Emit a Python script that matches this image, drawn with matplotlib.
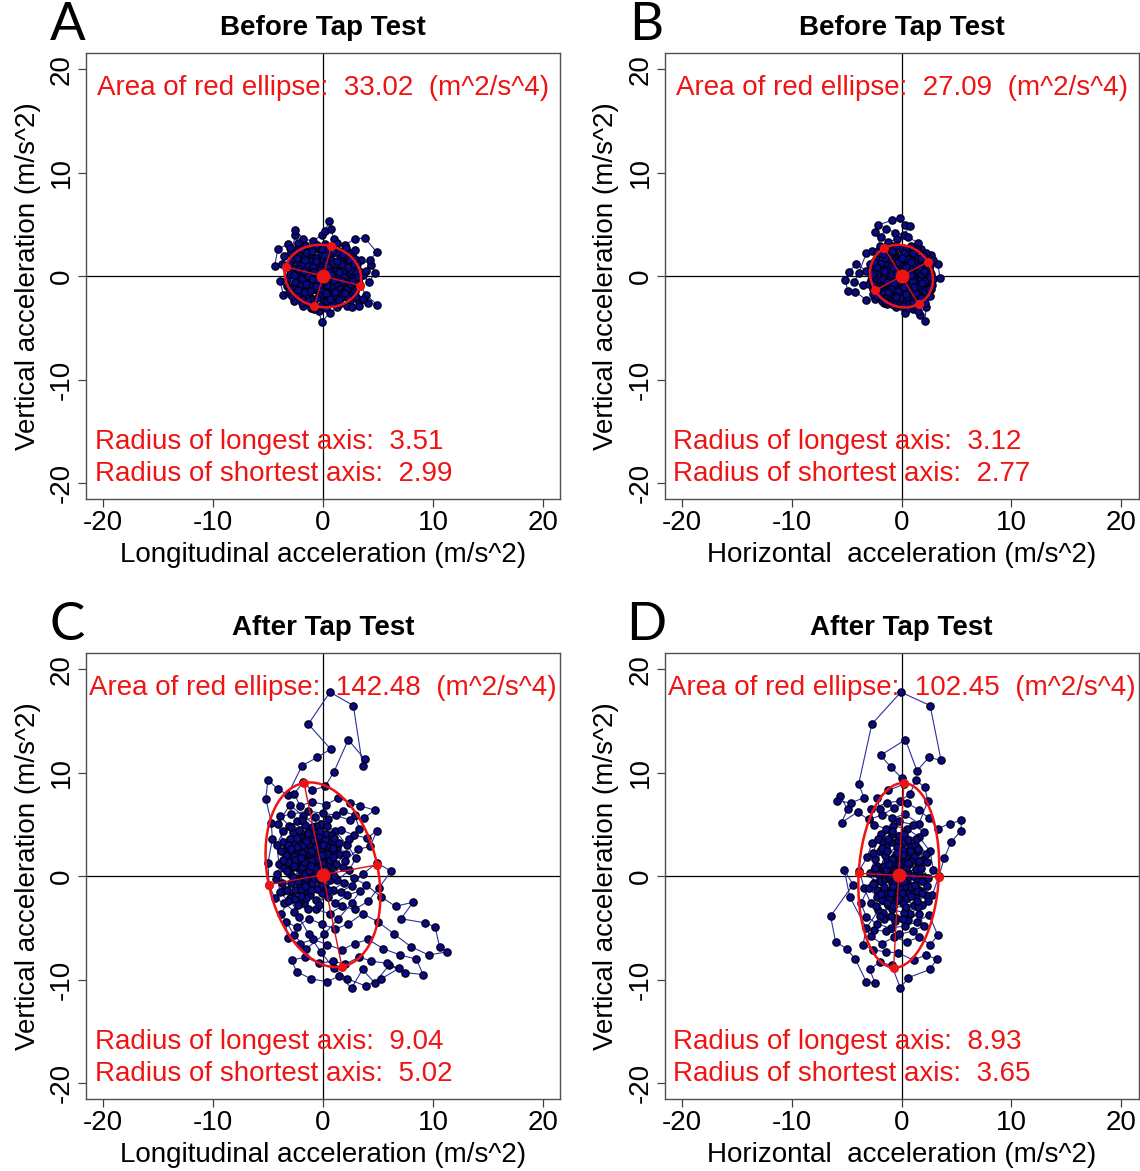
import numpy as np
import matplotlib
matplotlib.use("Agg")
import matplotlib.pyplot as plt
from matplotlib.patches import Ellipse

plt.rcParams["font.family"] = ["Liberation Sans", "DejaVu Sans"]

# ---- valores ----
panel_letters = ["A", "B", "C", "D"]
panel_titles = ["Before Tap Test", "Before Tap Test", "After Tap Test", "After Tap Test"]
x_labels = ["Longitudinal acceleration (m/s^2)", "Horizontal  acceleration (m/s^2)",
            "Longitudinal acceleration (m/s^2)", "Horizontal  acceleration (m/s^2)"]
y_label = "Vertical acceleration (m/s^2)"
ticks = [-20, -10, 0, 10, 20]

areas = [33.02, 27.09, 142.48, 102.45]
long_radius = [3.51, 3.12, 9.04, 8.93]
short_radius = [2.99, 2.77, 5.02, 3.65]
ellipse_angle = [-15, -60, 101, 87]          # grados, eje largo
ellipse_center = [(0.0, 0.0), (0.0, 0.0), (0.0, 0.15), (-0.25, 0.1)]

# trayectorias (aprox.)
pts_a = [
    (0.0, 0.0), (0.8, 0.4), (1.6, -0.2), (2.5, 0.3), (3.2, -0.4), (2.7, -1.1), (1.8, -0.8), (0.9, -1.3),
    (0.1, -0.7), (-0.8, -1.2), (-1.7, -0.6), (-2.6, -1.0), (-3.3, -0.3), (-2.9, 0.5), (-2.0, 0.2), (-1.1, 0.7),
    (-0.3, 0.4), (0.6, 1.1), (1.4, 0.7), (2.2, 1.2), (3.0, 0.8), (3.6, 0.1), (4.2, -0.6), (4.7, 0.3),
    (4.4, 1.1), (3.5, 1.6), (2.6, 2.0), (1.7, 1.7), (0.8, 2.2), (-0.1, 1.6), (-1.0, 2.0), (-1.9, 1.4),
    (-2.8, 1.6), (-3.4, 0.9), (-4.4, 1.0), (-4.1, 2.6), (-3.2, 3.1), (-2.4, 2.6), (-1.6, 3.0), (-0.7, 2.7),
    (0.2, 3.1), (1.1, 2.8), (2.0, 3.0), (2.9, 3.6), (3.8, 3.7), (4.9, 2.3), (4.3, 1.6), (3.9, 0.5),
    (3.4, -0.9), (3.9, -1.8), (4.9, -2.75), (4.1, -2.6), (3.3, -2.5), (2.5, -2.4), (1.7, -2.0), (0.9, -2.6),
    (0.0, -2.2), (-0.9, -2.7), (-1.8, -2.2), (-2.6, -2.4), (-3.6, -1.8), (-3.9, -0.5), (-3.1, -1.5), (-2.2, -1.6),
    (-1.3, -1.9), (-0.4, -1.5), (0.5, -1.9), (1.4, -1.5), (2.3, -1.7), (3.0, -2.0), (2.2, -2.9), (1.3, -3.0),
    (0.6, -3.6), (-0.1, -4.4), (-0.4, -3.4), (-1.1, -3.1), (-1.8, -2.9), (-1.0, -2.2), (-0.2, -2.9), (0.4, -2.4),
    (1.1, -1.1), (0.3, -0.3), (-0.5, 0.1), (-1.4, -0.2), (-2.3, -0.5), (-2.7, 0.8), (-1.8, 0.9), (-0.9, 1.2),
    (0.0, 0.8), (0.9, 0.0), (1.8, 0.4), (2.7, -0.2), (2.0, -0.6), (1.2, -0.3), (0.4, 0.6), (-0.4, 1.0),
    (-1.2, 1.5), (-2.1, 2.1), (-2.9, 2.2), (-2.5, 4.0), (-2.5, 4.5), (-1.8, 3.6), (-0.9, 3.4), (-0.1, 4.0),
    (0.2, 4.4), (0.58, 5.3), (0.7, 4.6), (1.0, 3.6), (1.5, 2.4), (2.3, 2.3), (2.9, 1.7), (2.4, 0.8),
    (1.6, 1.2), (0.7, 1.6), (-0.2, 2.2), (-1.1, 2.5), (-1.6, 1.9), (-2.2, 1.2), (-3.0, 0.2), (-2.4, -0.2),
    (-1.6, -1.1), (-0.7, -0.6), (0.2, -1.2), (1.0, -1.9), (1.9, -1.2), (2.8, -0.7), (3.3, 0.5), (2.9, 2.5),
    (2.1, 2.7), (1.3, 3.2), (0.4, 2.6), (-0.5, 3.0), (-1.4, 2.7), (-2.3, 3.2), (-3.0, 2.7), (-3.5, 1.9),
    (-3.7, 1.2), (-3.3, -1.0), (-2.8, -1.9), (-1.9, -2.6), (-0.8, -3.2), (0.3, -3.1), (1.5, -2.7), (2.6, -3.0),
    (3.3, -2.9), (3.6, -2.2), (2.7, -1.5), (1.6, -0.9), (0.6, -0.5), (-0.3, -0.9), (-1.2, -0.5), (-2.0, -1.2),
    (-1.5, 0.4), (-0.6, 0.5), (0.3, 0.2), (0.1, 0.0),
    (0.5, -0.6), (1.3, 0.2), (2.1, -0.3), (1.5, -1.1), (0.7, -1.0), (-0.2, -1.4), (-1.0, -0.9), (-1.9, -0.3),
    (-2.5, 0.3), (-1.9, 1.1), (-1.0, 0.3), (-0.1, 0.9), (0.8, 1.3), (1.6, 1.9), (2.4, 1.6), (3.1, 1.2),
    (2.6, 0.5), (1.9, -0.1), (1.1, 0.5), (0.3, 1.3), (-0.6, 1.8), (-1.5, 2.3), (-2.4, 1.8), (-3.1, 1.2),
    (-2.6, 0.1), (-2.1, -0.9), (-1.2, -1.4), (-0.3, -1.9), (0.6, -2.2), (1.5, -2.3), (2.3, -2.1), (2.9, -1.4),
    (2.2, -1.2), (1.3, -0.7), (0.4, -0.9), (-0.5, -0.4), (-1.4, 0.0), (-2.2, 0.7), (-1.4, 1.1), (-0.6, 1.5),
    (0.2, 2.0), (1.2, 2.3), (2.0, 1.9), (1.3, 1.5), (0.5, 0.9), (-0.3, 0.6), (-1.0, -0.3), (-1.7, -1.5),
    (-2.4, -1.8), (-1.4, -2.4), (-0.5, -2.1), (0.3, -1.6), (1.1, -1.5), (2.0, -1.6), (2.5, -0.8), (1.4, 0.0),
    (0.6, 0.4), (-0.2, 0.3), (-0.9, 0.9), (-1.7, 0.5), (-2.5, -0.6), (-3.0, -1.2), (-2.3, -1.3), (-1.5, -0.8),
    (-0.6, -1.0), (0.2, -0.5), (1.0, -0.4), (1.7, -0.5), (2.6, -0.5), (3.0, 0.3), (2.3, 0.9), (1.5, 0.4),
    (0.7, 0.1), (-0.1, -0.1), (-0.8, 0.4), (-1.6, 1.6), (-2.0, 2.6), (-1.0, 2.4), (-0.1, 2.6), (0.9, 2.5),
    (1.8, 2.1), (2.8, 1.2), (3.2, -0.1),
]

pts_b = [
    (0.0, 0.0), (0.9, 0.5), (1.8, -0.3), (2.6, 0.4), (2.2, 1.3), (1.3, 1.8), (0.4, 1.2), (-0.5, 1.9),
    (-1.4, 1.3), (-2.3, 1.7), (-2.8, 0.8), (-2.1, 0.1), (-1.2, 0.6), (-0.3, -0.2), (0.6, -0.9), (1.5, -1.4),
    (2.4, -1.0), (2.9, -0.3), (3.5, -0.2), (3.3, 1.2), (2.7, 2.0), (1.8, 2.6), (0.9, 2.9), (0.0, 2.6),
    (-0.9, 2.9), (-1.7, 2.5), (-2.4, 4.3), (-2.1, 4.95), (-0.9, 5.4), (-0.15, 5.6), (0.3, 4.9), (0.76, 4.8),
    (0.2, 4.0), (-0.6, 4.2), (-1.4, 4.6), (-1.9, 3.8), (-1.2, 3.3), (-0.4, 3.6), (0.6, 3.8), (1.5, 3.2),
    (2.27, 2.2), (2.9, 1.6), (2.5, 0.7), (1.6, 0.9), (0.7, 0.3), (-0.2, 0.8), (-1.1, -0.3), (-2.0, -0.6),
    (-2.8, -0.4), (-3.2, 0.5), (-4.1, 1.2), (-4.8, 0.4), (-5.1, -0.4), (-4.9, -1.4), (-4.2, -1.5), (-3.2, -2.3),
    (-2.0, -2.0), (-2.6, -1.2), (-3.5, -0.9), (-4.3, -0.6), (-3.9, 0.3), (-3.2, 2.2), (-2.7, 2.4), (-2.0, 2.9),
    (-1.2, 2.2), (-0.3, 1.6), (0.5, 2.1), (1.4, 2.6), (2.1, 1.6), (1.2, 0.2), (0.3, -0.6), (-0.6, -1.1),
    (-1.5, -1.5), (-2.4, -2.2), (-1.6, -2.6), (-0.8, -2.1), (0.1, -1.7), (1.0, -2.2), (1.9, -1.9), (2.7, -1.2),
    (2.27, -3.0), (2.1, -4.3), (1.7, -3.8), (1.0, -3.2), (0.3, -3.6), (-0.5, -3.0), (-1.3, -2.7), (-0.6, -2.4),
    (0.4, -2.6), (1.3, -2.9), (2.0, -2.4), (2.6, -1.9), (1.7, -1.0), (0.8, -1.3), (-0.1, -0.9), (-0.9, -1.7),
    (-1.8, -1.0), (-2.5, -0.2), (-1.9, 0.9), (-1.0, 1.5), (-0.1, 1.2), (0.8, 1.6), (1.7, 1.3), (2.5, -0.6),
    (1.9, -1.4), (0.9, -1.8), (0.0, -2.4), (-0.9, -2.7), (-1.8, -2.4), (-2.6, -1.7), (-3.0, -0.8), (-2.9, 1.2),
    (-2.2, 2.3), (-1.4, 2.8), (-0.5, 2.9), (0.4, 2.6), (1.2, 2.4), (2.0, 1.9), (2.6, 1.1), (2.8, -0.9),
    (2.1, -2.6), (1.5, -3.4), (0.6, -3.1), (-0.3, -2.7), (-1.1, -2.3), (-1.4, -0.8), (-0.7, 0.2), (0.2, 0.6),
    (1.1, -0.5), (0.4, -1.3), (-0.5, -0.6), (-1.6, 0.2), (-1.0, 1.0), (-0.1, 0.1),
    (0.5, -0.3), (1.3, 0.4), (2.0, 1.1), (1.4, 1.5), (0.6, 1.7), (-0.3, 1.4), (-1.1, 1.9), (-1.9, 1.3),
    (-2.4, 0.5), (-1.7, -0.3), (-0.9, 0.2), (-0.2, -0.5), (0.7, -1.4), (1.6, -0.9), (2.2, -0.4), (2.7, 0.2),
    (2.3, 0.9), (1.5, 0.5), (0.8, 0.9), (0.0, 0.4), (-0.8, 0.8), (-1.6, 0.5), (-2.3, -0.9), (-1.8, -1.7),
    (-1.0, -1.2), (-0.3, -1.4), (0.5, -2.0), (1.3, -1.6), (2.1, -1.4), (1.5, -2.4), (0.7, -2.7), (-0.1, -2.1),
    (-1.0, -2.0), (-1.9, -1.5), (-2.6, -0.8), (-2.2, 0.9), (-1.5, 1.8), (-0.7, 2.3), (0.2, 2.2), (1.0, 2.2),
    (1.8, 1.8), (2.3, 1.4), (1.8, 0.2), (1.0, -0.5), (0.2, -1.1), (-0.6, -1.9), (-1.4, -2.1), (-2.1, -1.2),
    (-1.3, -0.6), (-0.4, 0.3), (0.4, 0.9), (1.2, 1.2), (2.0, 0.5), (2.5, -1.2), (1.8, -2.1), (1.0, -2.6),
    (0.1, -2.9), (-0.7, -2.8), (-1.5, -2.4), (-2.2, -1.9), (-2.7, 0.1), (-2.5, 1.4), (-1.8, 2.1), (-0.9, 2.4),
    (0.0, 1.8), (0.9, 1.4), (1.6, 0.9), (0.9, 0.1), (0.1, -0.3), (-0.7, -0.7), (-1.2, -1.5), (-0.5, -2.0),
    (0.4, -1.7), (1.1, -1.1), (1.9, -0.7), (2.6, -0.1),
]

pts_c = [
    (0.0, 0.3), (-1.0, 1.2), (-2.0, 0.6), (-2.8, 1.8), (-1.6, 2.6), (-0.5, 1.9), (0.6, 1.0), (1.5, 2.2),
    (0.8, 3.4), (-0.4, 3.0), (-1.5, 3.8), (-2.6, 3.2), (-3.4, 2.1), (-3.0, 0.2), (-2.1, -0.8), (-1.0, -0.2),
    (0.2, -1.0), (1.3, -0.4), (2.4, 0.6), (3.0, 1.8), (2.2, 3.0), (1.1, 4.4), (-0.2, 5.1), (-1.3, 4.6),
    (-2.4, 5.3), (-3.6, 4.4), (-4.2, 3.0), (-4.0, 1.2), (-3.7, -0.6), (-2.8, -1.9), (-1.6, -1.4), (-0.6, -2.3),
    (0.5, -2.0), (1.6, -1.5), (2.6, -0.9), (3.6, 0.2), (4.9, 1.3), (6.2, 0.5), (5.1, -1.1), (4.1, -2.4),
    (2.9, -3.2), (1.7, -2.9), (0.6, -3.6), (-0.6, -3.2), (-1.7, -2.6), (-2.6, -3.4), (-3.5, -2.6), (-4.4, -2.1),
    (-4.9, -0.8), (-5.0, 1.3), (-4.6, 3.6), (-4.7, 5.2), (-5.2, 7.5), (-5.0, 9.35), (-4.1, 8.4), (-3.2, 7.9),
    (-1.9, 10.7), (-0.5, 11.5), (0.7, 12.3), (-1.33, 14.7), (0.64, 17.8), (2.76, 16.5), (3.6, 10.7), (3.8, 11.3),
    (2.3, 13.2), (1.0, 10.1), (0.2, 8.7), (-1.0, 8.3), (-1.79, 9.1), (-2.6, 8.0), (-2.1, 6.8), (-1.0, 7.2),
    (0.3, 6.9), (1.4, 7.6), (2.5, 7.1), (3.4, 6.8), (4.7, 6.4), (3.7, 5.6), (2.5, 5.4), (1.2, 5.9),
    (0.0, 6.1), (-1.4, 6.3), (-2.9, 6.0), (-3.9, 5.8), (-3.1, 4.9), (-2.0, 4.2), (-0.9, 4.0), (0.3, 4.1),
    (1.6, 4.5), (2.8, 4.0), (4.0, 3.7), (4.9, 4.4), (4.3, 2.9), (3.2, 2.6), (2.0, 1.5), (0.9, 2.3),
    (-0.3, 2.6), (-1.3, 2.1), (-2.3, 2.4), (-3.1, 1.0), (-2.3, -0.2), (-1.4, 0.4), (-0.4, 0.8), (0.7, 0.2),
    (1.8, 0.9), (2.8, -0.2), (3.9, -0.8), (5.3, -2.0), (6.6, -2.9), (8.2, -2.5), (7.1, -4.1), (9.3, -4.5),
    (10.2, -4.9), (10.6, -6.8), (11.3, -7.3), (9.6, -7.6), (8.0, -6.8), (6.5, -5.6), (5.0, -4.4), (3.6, -3.6),
    (2.3, -4.6), (1.1, -5.1), (-0.1, -4.6), (-1.3, -4.1), (-2.4, -4.9), (-3.4, -4.4), (-3.2, -6.0), (-2.1, -6.5),
    (-0.9, -6.1), (0.4, -6.6), (1.7, -7.1), (2.9, -6.5), (4.1, -6.1), (5.5, -7.0), (7.0, -7.6), (8.5, -8.0),
    (9.1, -9.5), (7.5, -9.3), (6.0, -8.6), (4.7, -10.3), (3.6, -9.0), (2.6, -10.8), (1.5, -9.6), (0.4, -10.2),
    (-1.1, -9.9), (-2.4, -9.2), (-2.85, -8.1), (-1.6, -7.8), (-0.4, -8.4), (0.9, -8.2), (2.0, -8.5), (3.3, -7.8),
    (4.4, -8.2), (5.8, -8.4), (6.9, -8.9), (5.3, -9.9), (3.9, -10.6), (2.2, -9.9), (1.0, -8.9), (-0.2, -7.3),
    (-1.3, -5.6), (-2.2, -3.9), (-3.0, -2.1), (-3.8, -3.6), (-2.6, -5.7), (-1.5, -7.0), (0.1, -5.6), (1.4, -4.1),
    (2.6, -2.6), (3.4, -1.4), (2.2, -1.8), (1.1, -2.6), (-0.1, -1.6), (-1.3, -0.8), (-2.4, 0.9), (-3.3, 2.8),
    (-2.1, 3.4), (-1.1, 2.9), (-0.1, 3.6), (1.1, 3.1), (2.1, 2.2), (1.0, 1.0), (-0.2, 0.0), (-1.2, -1.8),
    (-2.2, -2.6), (-1.9, -0.2), (-2.7, 0.9), (-1.8, 1.8), (-0.8, 1.0), (0.2, 1.7), (-0.6, 2.4), (-1.7, 3.1),
    (-2.6, 2.0), (-2.0, 1.2), (-1.1, 0.5), (-0.3, 1.4), (0.5, 2.6), (-0.4, 3.9), (-1.6, 5.0), (-2.7, 4.3),
    (-3.6, 3.3), (-4.1, 5.1), (-3.0, 6.9), (-1.8, 5.8), (-0.6, 4.9), (0.5, 5.5), (1.8, 6.3), (2.9, 5.9),
    (3.3, 4.6), (2.4, 3.6), (1.3, 2.8), (0.3, 2.1), (-0.7, 1.5), (-1.5, 0.9), (-2.5, 1.4), (-3.5, 0.8),
    (-4.3, -0.3), (-3.6, -1.4), (-2.5, -1.3), (-1.5, -0.2), (-0.5, 0.4), (0.0, 0.2),
    (-1.2, 2.2), (-0.4, 1.1), (-1.6, 0.2), (-2.5, 1.6), (-1.8, 3.0), (-0.8, 3.5), (0.3, 2.9), (0.6, 1.6),
    (-0.2, 0.5), (-1.0, -0.6), (-2.0, -1.3), (-2.9, -0.6), (-3.2, 1.4), (-2.4, 2.8), (-1.4, 4.2), (-0.3, 4.4),
    (0.8, 4.0), (1.5, 3.2), (0.9, 1.9), (-0.1, 1.3), (-0.9, 2.6), (-2.1, 3.8), (-3.0, 3.6), (-3.8, 2.4),
    (-3.3, 0.5), (-2.3, -0.5), (-1.3, 0.5), (-0.5, 1.7), (0.4, 2.2), (1.2, 1.2), (0.6, -0.4), (-0.5, -1.2),
    (-1.5, -2.1), (-2.5, -2.2), (-3.3, -1.3), (-2.7, -0.1), (-1.9, 0.9), (-1.0, 1.6), (-0.1, 2.1), (0.9, 2.7),
    (0.2, 3.5), (-1.0, 4.8), (-2.2, 4.5), (-3.2, 3.0), (-2.6, 1.0), (-1.7, 1.4), (-0.7, 0.8), (0.2, 0.7),
    (1.0, 0.0), (1.9, -0.6), (0.9, -1.3), (-0.2, -0.7), (-1.1, -1.3), (-2.0, -1.9), (-1.6, -0.9), (-0.8, -0.2),
    (0.1, -0.1), (-0.6, 2.8), (-1.5, 3.4), (-2.4, 3.7), (-1.9, 2.3), (-1.1, 1.0), (-0.3, -0.3), (0.5, -1.3),
    (-0.4, -2.8), (-1.4, -3.2), (-2.3, -2.8), (-3.2, -2.4), (-3.9, -1.5), (-4.2, 0.2), (-3.6, 1.6), (-2.9, 2.6),
    (-2.0, 1.8), (-1.1, 2.4), (0.0, 3.0), (1.0, 3.7), (0.4, 4.9), (-0.7, 5.7), (-1.9, 5.4), (-2.9, 4.8),
]

pts_d = [
    (-0.2, 0.1), (0.7, 1.2), (-0.6, 2.0), (-1.6, 1.0), (-0.9, -0.6), (0.4, -1.3), (1.4, -0.2), (1.9, 1.6),
    (0.9, 2.9), (-0.3, 3.5), (-1.4, 2.8), (-2.4, 1.7), (-2.9, 0.3), (-2.2, -1.3), (-1.1, -2.1), (0.1, -2.6),
    (1.3, -1.9), (2.3, -0.9), (2.9, 0.6), (2.6, 2.4), (1.6, 3.8), (0.5, 4.6), (-0.8, 4.9), (-1.9, 4.1),
    (-2.7, 3.2), (-3.1, 1.9), (-3.85, 0.55), (-3.4, -1.1), (-2.8, -2.6), (-1.7, -3.5), (-0.5, -4.0), (0.8, -3.6),
    (1.9, -2.8), (2.8, -1.8), (3.4, 0.03), (3.9, 1.8), (4.5, 3.3), (5.4, 4.4), (5.45, 5.4), (4.4, 5.1),
    (3.3, 4.6), (2.5, 5.6), (1.6, 6.4), (0.5, 7.1), (-0.7, 6.6), (-1.8, 5.9), (-3.0, 5.5), (-4.0, 6.2),
    (-5.45, 5.2), (-4.9, 6.5), (-5.6, 7.8), (-5.9, 7.3), (-4.6, 7.1), (-3.4, 7.6), (-3.9, 8.9), (-2.7, 14.7),
    (-0.06, 17.8), (2.6, 16.5), (3.6, 11.2), (2.5, 11.5), (1.4, 10.2), (0.36, 13.2), (-1.9, 11.7), (-1.0, 10.6),
    (0.0, 9.5), (0.2, 8.9), (-1.2, 8.3), (-2.2, 7.6), (-2.0, 6.5), (-0.9, 5.6), (0.3, 6.0), (1.6, 5.1),
    (2.4, 7.3), (2.1, 8.6), (1.3, 9.3), (0.8, 8.0), (-0.1, 7.3), (-1.3, 7.1), (-2.8, 6.5), (-2.5, 5.0),
    (-1.4, 4.6), (-0.2, 5.3), (1.0, 5.0), (2.0, 4.3), (1.2, 3.0), (0.1, 2.5), (-1.0, 3.3), (-2.0, 2.4),
    (-1.3, 1.6), (-0.4, 0.9), (0.6, 0.3), (1.5, 1.0), (0.7, 2.1), (-0.3, 1.6), (-1.2, 0.3), (-2.0, -0.5),
    (-1.0, -1.3), (0.0, -0.6), (1.0, -1.0), (2.0, -0.1), (2.2, -1.8), (1.1, -2.8), (0.0, -1.9), (-1.2, -2.8),
    (-2.2, -2.0), (-3.0, -1.1), (-3.7, -2.6), (-3.2, -3.9), (-2.2, -4.6), (-1.0, -5.0), (0.3, -4.8), (1.4, -4.4),
    (2.5, -3.7), (3.3, -5.7), (2.6, -6.6), (1.6, -5.9), (0.5, -6.3), (-0.7, -5.9), (-1.8, -6.5), (-2.8, -5.8),
    (-4.7, -2.0), (-5.2, 0.6), (-4.4, -0.8), (-6.45, -3.85), (-6.0, -6.3), (-5.0, -7.0), (-4.2, -8.0), (-3.2, -10.2),
    (-2.4, -10.3), (-2.9, -9.0), (-2.0, -8.3), (-0.9, -8.6), (-0.1, -10.8), (0.6, -9.8), (2.6, -9.0), (3.2, -8.0),
    (2.2, -7.6), (1.1, -8.1), (-0.3, -7.4), (-1.4, -7.3), (-2.6, -7.1), (-3.5, -6.6), (-3.2, -5.0), (-2.1, -3.3),
    (-0.9, -3.2), (0.2, -3.5), (1.5, -3.0), (2.4, -2.4), (1.6, -1.3), (0.6, -1.6), (-0.5, -2.4), (-1.6, -1.6),
    (-2.5, -0.6), (-1.7, 0.4), (-0.8, 1.0), (0.2, 1.3), (1.1, 2.0), (0.2, 3.3), (-0.9, 4.1), (-1.8, 3.4),
    (-2.2, 1.0), (-1.5, -0.3), (-0.6, -0.9), (0.5, -0.6), (1.6, 0.5), (2.3, 1.4), (1.5, 2.4), (0.4, 1.9),
    (-0.6, 1.4), (-1.1, -0.1), (-0.3, -0.2),
    (-0.5, 0.6), (0.4, 0.8), (1.0, 0.0), (0.3, -0.9), (-0.7, -0.3), (-1.4, 0.6), (-0.9, 1.7), (0.1, 2.1),
    (0.9, 1.5), (1.5, 2.6), (0.6, 3.5), (-0.4, 2.8), (-1.5, 2.1), (-2.1, 0.2), (-1.6, -1.0), (-0.6, -1.7),
    (0.5, -2.1), (1.4, -1.4), (1.9, -0.5), (1.3, 0.7), (0.3, 0.2), (-0.8, -0.9), (-1.8, -2.3), (-0.8, -2.9),
    (0.4, -3.0), (1.4, -2.4), (0.9, -1.0), (-0.1, -1.2), (-1.0, 0.0), (-0.2, 1.2), (0.8, 2.4), (-0.2, 3.9),
    (-1.2, 3.6), (-1.8, 2.7), (-1.1, 1.2), (-0.3, 0.4), (0.5, -0.3), (1.2, -0.8), (1.8, 0.8), (2.2, 2.2),
    (1.3, 3.6), (0.2, 4.1), (-0.9, 4.4), (-2.1, 3.6), (-2.6, 2.3), (-2.4, 0.8), (-2.6, -0.7), (-1.9, -1.7),
    (-1.0, -1.6), (0.0, -1.6), (0.9, -1.9), (1.9, -1.6), (2.4, -0.2), (1.6, 1.5), (0.6, 1.3), (-0.4, 2.3),
    (-1.3, 2.4), (-0.6, -0.4), (0.2, -0.5), (-0.3, -2.1), (-1.3, -2.6), (-2.3, -2.9), (-1.6, -4.1), (-0.6, -4.3),
    (0.6, -4.2), (1.6, -3.6), (2.0, -4.8), (1.0, -5.3), (-0.2, -5.6), (-1.4, -5.3), (-2.5, -5.2), (-2.0, -3.8),
    (-1.0, -3.8), (0.1, -4.1),
]
trajectories = [pts_a, pts_b, pts_c, pts_d]

# posiciones de los paneles (fraccion de figura)
axes_rects = [
    [0.0754, 0.5739, 0.4158, 0.3806],
    [0.5829, 0.5739, 0.4158, 0.3806],
    [0.0754, 0.0612, 0.4158, 0.3809],
    [0.5829, 0.0612, 0.4158, 0.3809],
]

ROJO = "#EE1414"
AZUL_PUNTO = "#0A0A88"
AZUL_LINEA = "#2E2EA2"
LIM = 21.55


def dibujar_panel(ax, i):
    xs, ys = zip(*trajectories[i])
    ax.plot(xs, ys, "-", color=AZUL_LINEA, lw=0.8, zorder=2)
    ax.plot(xs, ys, "o", ms=5.2, mfc=AZUL_PUNTO, mec="#000018", mew=1.0, zorder=3)

    ax.axhline(0, color="black", lw=0.9, zorder=1)
    ax.axvline(0, color="black", lw=0.9, zorder=1)

    # elipse roja
    cx, cy = ellipse_center[i]
    ang = np.deg2rad(ellipse_angle[i])
    a, b = long_radius[i], short_radius[i]
    ax.add_patch(Ellipse((cx, cy), 2 * a, 2 * b, angle=ellipse_angle[i],
                         fill=False, ec=ROJO, lw=1.8, zorder=5))
    ux, uy = np.cos(ang), np.sin(ang)
    ends_x = [cx + a * ux, cx - a * ux, cx - b * uy, cx + b * uy]
    ends_y = [cy + a * uy, cy - a * uy, cy + b * ux, cy - b * ux]
    for ex, ey in zip(ends_x, ends_y):
        ax.plot([cx, ex], [cy, ey], color="#D81010", lw=1.0, zorder=5)
    ax.plot(ends_x, ends_y, "o", ms=5.5, color=ROJO, mec=ROJO, zorder=6, ls="none")
    ax.plot([cx], [cy], "o", ms=9, color=ROJO, zorder=6)

    # textos
    ax.text(0, 18.2, f"Area of red ellipse:  {areas[i]:.2f}  (m^2/s^4)",
            ha="center", va="center", color=ROJO, fontsize=20, zorder=7)
    ax.text(-20.75, -16.0, f"Radius of longest axis:  {long_radius[i]:.2f}",
            ha="left", va="center", color=ROJO, fontsize=20, zorder=7)
    ax.text(-20.75, -19.1, f"Radius of shortest axis:  {short_radius[i]:.2f}",
            ha="left", va="center", color=ROJO, fontsize=20, zorder=7)

    ax.set_xlim(-LIM, LIM)
    ax.set_ylim(-LIM, LIM)
    ax.set_xticks(ticks)
    ax.set_yticks(ticks)
    ax.set_xticklabels([str(t) for t in ticks])
    ax.set_yticklabels([str(t) for t in ticks])
    ax.tick_params(axis="both", direction="out", length=6, width=0.9,
                   color="#404040", labelsize=20, pad=2)
    ax.tick_params(axis="y", labelrotation=90)
    for lbl in ax.get_yticklabels():
        lbl.set_va("center")
    for s in ax.spines.values():
        s.set_color("#505050")
        s.set_linewidth(1.0)

    ax.set_xlabel(x_labels[i], fontsize=20, labelpad=4)
    ax.set_ylabel(y_label, fontsize=20, labelpad=6)
    ax.text(0.5, 1.056, panel_titles[i], transform=ax.transAxes, ha="center",
            va="center", fontsize=20, fontweight="bold")
    ax.text(-0.039, 1.062, panel_letters[i], transform=ax.transAxes, ha="center",
            va="center", fontsize=38, family=["Lato", "DejaVu Sans"], fontweight="normal")


fig = plt.figure(figsize=(11.4, 11.71), dpi=100)
for i, rect in enumerate(axes_rects):
    ax = fig.add_axes(rect)
    dibujar_panel(ax, i)

fig.savefig("out.png", dpi=100)
plt.close(fig)
